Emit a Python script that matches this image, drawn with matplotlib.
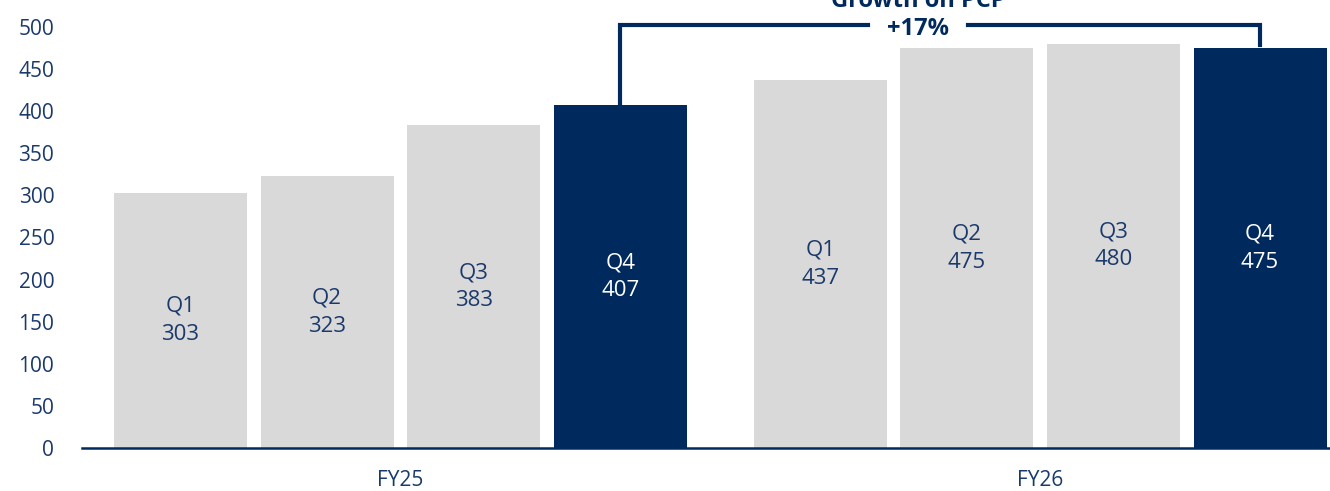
import matplotlib.pyplot as plt

# data
quarters = ["Q1", "Q2", "Q3", "Q4"]
years = ["FY25", "FY26"]
fy25_values = [303, 323, 383, 407]
fy26_values = [437, 475, 480, 475]
growth_label = "+17%"
growth_title = "Growth on PCP"

NAVY = "#002A5E"
GREY = "#D9D9D9"
TEXT = "#1B3A6B"

plt.rcParams['font.family'] = ['Open Sans', 'DejaVu Sans']


def draw_chart():
    fig = plt.figure(figsize=(13.3, 4.91), dpi=100)
    ax = fig.add_axes([0.0617, 0.0876, 0.9383, 0.9124])

    group_gap = 1.363
    width = 0.907
    all_x = []
    all_vals = []
    for g, vals in enumerate([fy25_values, fy26_values]):
        for i, v in enumerate(vals):
            all_x.append(g * (3 + group_gap) + i)
            all_vals.append(v)

    for k, (x, v) in enumerate(zip(all_x, all_vals)):
        last = (k % 4) == 3
        color = NAVY if last else GREY
        ax.bar(x, v, width=width, color=color, zorder=2)
        ax.text(x, v / 2, f"{quarters[k % 4]}\n{v}", ha="center", va="center",
                fontsize=16, color="white" if last else TEXT, linespacing=1.45)

    # bracket between the two Q4 bars
    x0, x1 = all_x[3], all_x[7]
    ytop = 502
    xc = 5.03
    gap = 0.34
    lw = 3
    ax.plot([x0, x0, xc - gap], [all_vals[3] + 1, ytop, ytop], color=NAVY, lw=lw,
            solid_joinstyle="miter", clip_on=False, zorder=3)
    ax.plot([xc + gap, x1, x1], [ytop, ytop, all_vals[7] + 4], color=NAVY, lw=lw,
            solid_joinstyle="miter", clip_on=False, zorder=3)
    ax.text(xc, 497, growth_label, ha="center", va="center", fontsize=17,
            fontweight="bold", color=NAVY)
    ax.text(xc, 531, growth_title, ha="center", va="center", fontsize=17,
            fontweight="bold", color=NAVY, clip_on=False)

    ax.set_ylim(0, 532)
    ax.set_xlim(-0.671, 7.84)
    ax.set_yticks(range(0, 501, 50))
    ax.tick_params(axis="y", length=0, pad=20, labelsize=15, labelcolor=TEXT)

    centers = [sum(all_x[0:4]) / 4, sum(all_x[4:8]) / 4]
    ax.set_xticks(centers)
    ax.set_xticklabels(years)
    ax.tick_params(axis="x", length=0, pad=16, labelsize=15, labelcolor=TEXT)

    for side in ["top", "right", "left"]:
        ax.spines[side].set_visible(False)
    ax.spines["bottom"].set_color(NAVY)
    ax.spines["bottom"].set_linewidth(1.8)
    ax.spines["bottom"].set_zorder(4)

    fig.savefig("out.png", dpi=100)


if __name__ == "__main__":
    draw_chart()
